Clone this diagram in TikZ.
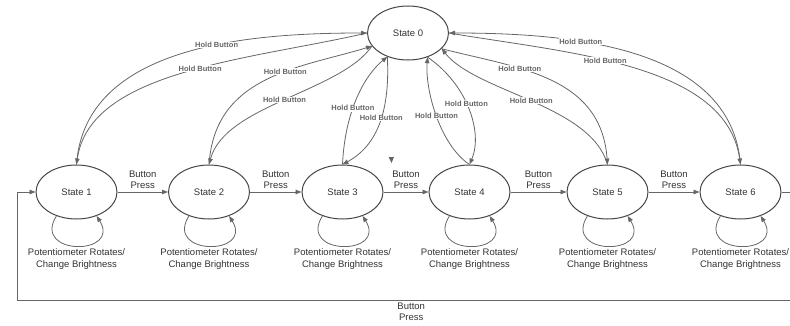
\documentclass[tikz,border=0pt]{standalone}
\usepackage{fontspec}
\setmainfont{Liberation Sans}
\usepackage{tikz}
\usetikzlibrary{positioning,arrows.meta,shapes.geometric}

\definecolor{linegray}{HTML}{666666}
\definecolor{inkgray}{HTML}{333333}

\tikzset{
  statebox/.style={ellipse, draw=inkgray!90, line width=1pt, minimum width=81pt,
    minimum height=54pt, inner sep=0pt, font=\fontsize{9.5}{11}\selectfont, text=inkgray},
  trans/.style={draw=linegray, line width=0.8pt, -{Triangle[length=6pt,width=4.5pt]}},
  hold/.style={font=\bfseries\fontsize{7.5}{9}\selectfont, text=linegray, fill=white, inner sep=0.5pt},
  press/.style={font=\fontsize{9.5}{11.5}\selectfont, text=inkgray, align=center},
}

\begin{document}
\begin{tikzpicture}[x=1pt,y=1pt]
  \useasboundingbox (0,0) rectangle (790,325);
  \node[statebox] (s0) at (408,292) {State 0};
  % states with their self loops
  \foreach \i/\x in {1/76.5,2/209,3/342.5,4/469.5,5/607.5,6/740.5} {
    \node[statebox] (s\i) at (\x,133) {State \i};
    \draw[trans] (s\i.-130) .. controls +(-25,-40) and +(25,-40) .. (s\i.-50);
    \node[press] (pot\i) at (\x,66) {Potentiometer Rotates/\\Change Brightness};
  }
  \foreach \a/\b in {1/2,2/3,3/4,4/5,5/6}
    \draw[trans] (s\a) -- node[press, above, inner sep=3pt] {Button\\Press} (s\b);
  % wrap around
  \coordinate (r1) at (790,133);
  \coordinate (r2) at (790,25);
  \coordinate (l2) at (17,25);
  \draw[trans, -] (s6) -- (r1);
  \draw[trans] (r2) -- node[press, below, pos=0.49, inner sep=2.5pt] {Button\\Press} (l2) |- (s1);
  % hold button arcs
  \draw[trans] (s1.north) .. controls (85,280) and (250,292) .. node[hold, pos=0.6] {Hold Button} (s0.west);
  \draw[trans] (s0.west) .. controls (250,265) and (90,255) .. node[hold, pos=0.45] {Hold Button} (s1.north);
  \draw[trans] (s2.north) .. controls (215,250) and (300,257) .. node[hold, pos=0.6] {Hold Button} (s0.200);
  \draw[trans] (s0.200) .. controls (340,233) and (225,220) .. node[hold, pos=0.5] {Hold Button} (s2.north);
  \draw[trans] (s3.north) .. controls (345,215) and (365,250) .. node[hold, pos=0.4] {Hold Button} (s0.229);
  \draw[trans] (s0.229) .. controls (390,215) and (378,180) .. node[hold, pos=0.45] {Hold Button} (s3.north);
  \draw[trans] (s4.north) .. controls (440,180) and (425,235) .. node[hold, pos=0.5] {Hold Button} (s0.-51);
  \draw[trans] (s0.-51) .. controls (468,240) and (483,192) .. node[hold, pos=0.45] {Hold Button} (s4.north);
  \draw[trans] (s0.-25) .. controls (516,257) and (601,250) .. node[hold, pos=0.35] {Hold Button} (s5.north);
  \draw[trans] (s5.north) .. controls (591,220) and (476,233) .. node[hold, pos=0.5] {Hold Button} (s0.-25);
  \draw[trans] (s6.north) .. controls (731,280) and (566,292) .. node[hold, pos=0.65] {Hold Button} (s0.east);
  \draw[trans] (s0.east) .. controls (566,272) and (726,262) .. node[hold, pos=0.42] {Hold Button} (s6.north);
  \fill[linegray] (388.5,168) -- (394,168) -- (391.5,162) -- cycle;
\end{tikzpicture}
\end{document}
